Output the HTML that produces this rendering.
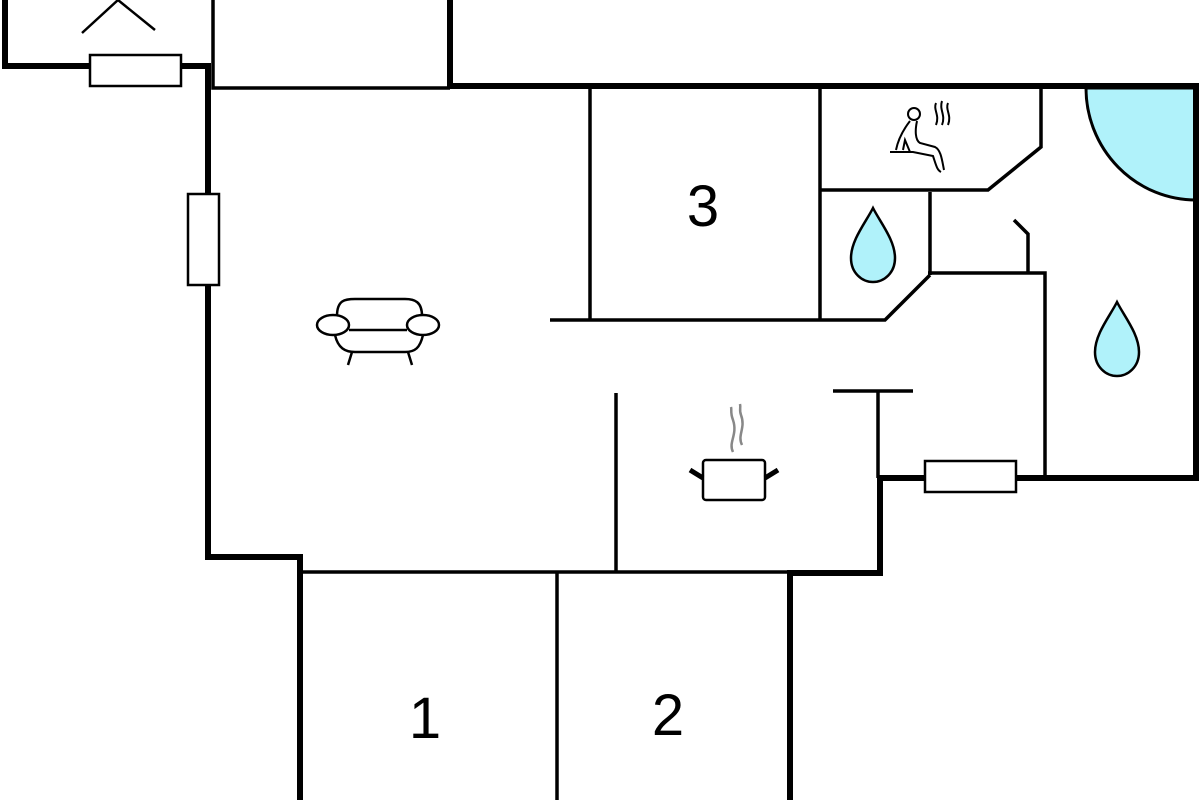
<!DOCTYPE html>
<html><head><style>html,body{margin:0;padding:0;background:#fff;width:1200px;height:800px;overflow:hidden}</style></head>
<body>
<svg width="1200" height="800" viewBox="0 0 1200 800" xmlns="http://www.w3.org/2000/svg">
<path d="M1196,200 A110,112 0 0 1 1086,88 L1196,88 Z" fill="#b0f2fa" stroke="#000" stroke-width="3"/>
<g stroke="#000" stroke-width="6" fill="none" stroke-linecap="square">
<path d="M5,0 V66 H90 M180,66 H208 V195 M208,285 V557 H300 V800"/>
<path d="M450,0 V86 H1196 V478 H1016 M925,478 H880 V573 H790 V800"/>
</g>
<g stroke="#000" stroke-width="3.5" fill="none">
<path d="M213,0 V88 H450"/>
<path d="M590,88 V320 M820,88 V320 M550,320 H885 L930,275 M930,192 V275 M928,273 H1045 V475"/>
<path d="M820,190 H988 L1041,147 V88"/>
<path d="M1014,220 L1028,234 V273"/>
<path d="M833,391 H913 M878,391 V478"/>
<path d="M616,393 V572 M300,572 H790 M557,572 V800"/>
<path d="M82,33 L118,0 L155,30" stroke-width="2.5"/>
</g>
<g stroke="#000" stroke-width="2.5" fill="#fff">
<rect x="90" y="55" width="91" height="31"/>
<rect x="188" y="194" width="31" height="91"/>
<rect x="925" y="461" width="91" height="31"/>
</g>
<g fill="#b0f2fa" stroke="#000" stroke-width="2.5">
<path d="M873,208 C866,222 851,240 851,258 C851,273 862,282 873,282 C884,282 895,273 895,258 C895,240 880,222 873,208 Z"/>
<path d="M1117,302 C1110,316 1095,334 1095,352 C1095,367 1106,376 1117,376 C1128,376 1139,367 1139,352 C1139,334 1124,316 1117,302 Z"/>
</g>
<g stroke="#000" stroke-width="2.5" fill="none">
<path d="M337,316 C337,300 345,299 355,299 H405 C415,299 422,302 422,316"/>
<path d="M335,335 C338,348 345,352 355,352 H405 C415,352 420,348 423,335"/>
<ellipse cx="333" cy="325" rx="16" ry="10" fill="#fff"/>
<ellipse cx="423" cy="325" rx="16" ry="10" fill="#fff"/>
<path d="M349,330 H407 M352,352 L348,365 M408,352 L412,365"/>
</g>
<g stroke="#000" fill="none">
<rect x="703" y="460" width="62" height="40" rx="3" stroke-width="2.5" fill="#fff"/>
<path d="M703,478 L690,470 M765,478 L778,470" stroke-width="5"/>
<path d="M733,452 C728,442 738,435 733,420 C730,412 732,410 731,407 M742,445 C737,435 746,428 741,415 C739,410 741,408 740,404" stroke="#888" stroke-width="2.5"/>
</g>
<g stroke="#000" stroke-width="2" fill="none">
<circle cx="914" cy="114" r="6"/>
<path d="M910,121 C903,130 898,140 896,150 M917,121 C915,130 915,140 920,143 L935,147 C941,150 942,160 944,170 M903,150 L905,140 L910,152 M890,152 H913 L933,156 C936,165 937,170 941,172"/>
<path d="M936,103 C933,110 940,115 936,125 M942,101 C939,110 946,115 942,125 M948,103 C945,110 952,115 948,125"/>
</g>
<g font-family="Liberation Sans, sans-serif" font-size="58" fill="#000" text-anchor="middle">
<text x="703" y="226">3</text>
<text x="425" y="738">1</text>
<text x="668" y="735">2</text>
</g>
</svg>
</body></html>
